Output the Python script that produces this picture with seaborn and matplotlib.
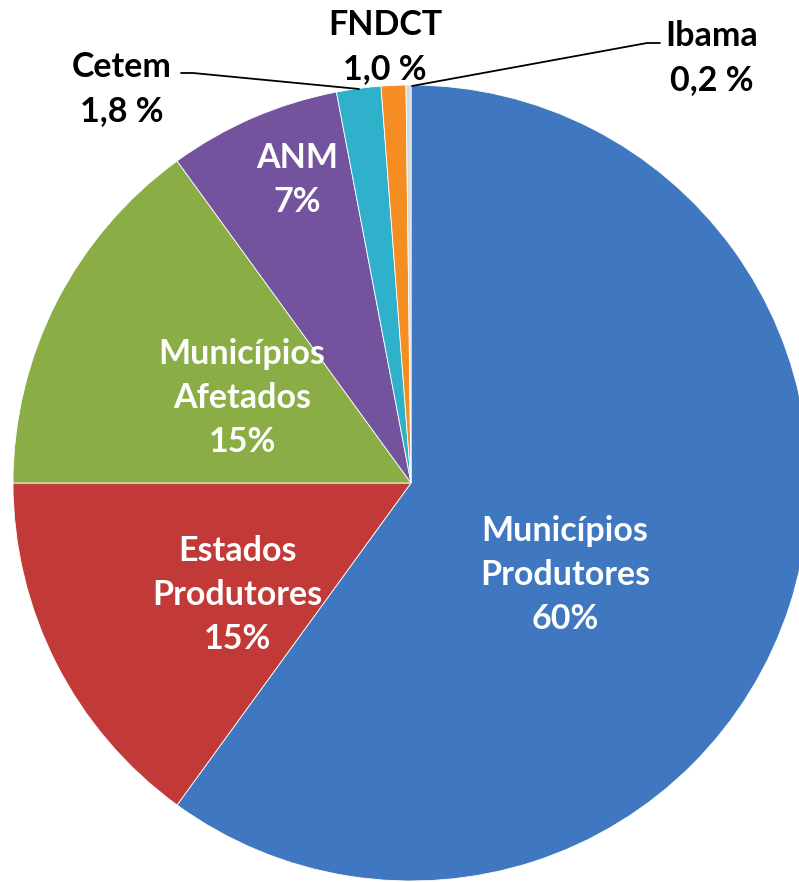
import matplotlib
matplotlib.use("Agg")
import matplotlib.pyplot as plt
import seaborn as sns

labels = ['Municípios\nProdutores\n60%', 'Estados\nProdutores\n15%', 'Municípios\nAfetados\n15%',
          'ANM\n7%', 'Cetem\n1,8 %', 'FNDCT\n1,0 %', 'Ibama\n0,2 %']
values = [60, 15, 15, 7, 1.8, 1.0, 0.2]
colors = ['#3F78C0', '#C23A38', '#8AAE45', '#74539E', '#2FB0CB', '#F68D22', '#D8D8D8']

sns.set_theme(style="white")
plt.rcParams['font.family'] = ['Lato', 'DejaVu Sans']

fig = plt.figure(figsize=(7.99, 8.82), dpi=100)
ax = fig.add_axes([0, 0, 1, 1])

R = 398.0
cx, cy = 411.0, 483.0


def px(x, y):
    return (x - cx) / R, (cy - y) / R


wedges, _ = ax.pie(values, colors=colors, startangle=90, counterclock=False, radius=1,
                   wedgeprops=dict(edgecolor='#FFFFFF', linewidth=0.6, alpha=1))

# inside labels (white)
inside = {0: (565, 575), 1: (237, 595), 2: (242, 398), 3: (297, 180)}
for i, (x, y) in inside.items():
    tx, ty = px(x, y)
    ax.text(tx, ty, labels[i], color='white', fontsize=24.5, fontweight='bold',
            ha='center', va='center', linespacing=1.45)

# outside labels (black)
outside = {4: (122, 89), 5: (385, 47), 6: (712, 58)}
for i, (x, y) in outside.items():
    tx, ty = px(x, y)
    ax.text(tx, ty, labels[i], color='black', fontsize=24.5, fontweight='bold',
            ha='center', va='center', linespacing=1.45)

# leader lines
for pts in [[(181, 73), (193, 73), (359, 89)], [(660, 43), (647, 43), (412, 86)]]:
    xs, ys = zip(*[px(x, y) for x, y in pts])
    ax.plot(xs, ys, color='black', lw=1.3)

ax.set_xlim(px(0, 0)[0], px(799, 0)[0])
ax.set_ylim(px(0, 882)[1], px(0, 0)[1])
ax.set_aspect('auto')
ax.axis('off')

fig.savefig('out.png', dpi=100)
